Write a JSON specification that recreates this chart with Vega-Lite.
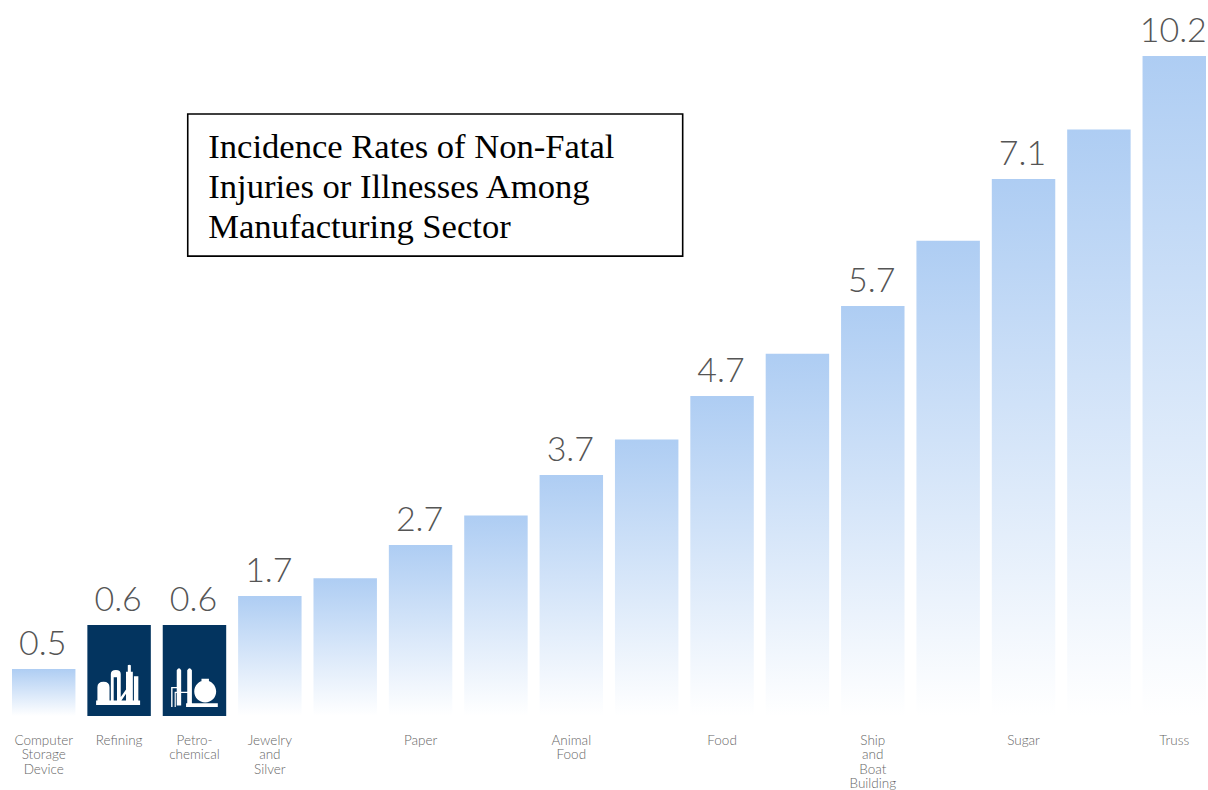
{
"$schema":"https://vega.github.io/schema/vega-lite/v6.json",
"width":1208,"height":790,"padding":0,
"autosize":{"type":"fit","contains":"padding"},
"background":"white",
"config":{"view":{"stroke":null}},
"datasets":{"rates":[
{"rank":1,"industry":"Computer|Storage|Device","value":0.5,"labelled":true,"highlight":false},
{"rank":2,"industry":"Refining","value":0.6,"labelled":true,"highlight":true},
{"rank":3,"industry":"Petro-|chemical","value":0.6,"labelled":true,"highlight":true},
{"rank":4,"industry":"Jewelry|and|Silver","value":1.7,"labelled":true,"highlight":false},
{"rank":5,"industry":"","value":2.05,"labelled":false,"highlight":false},
{"rank":6,"industry":"Paper","value":2.7,"labelled":true,"highlight":false},
{"rank":7,"industry":"","value":3.12,"labelled":false,"highlight":false},
{"rank":8,"industry":"Animal|Food","value":3.7,"labelled":true,"highlight":false},
{"rank":9,"industry":"","value":4.15,"labelled":false,"highlight":false},
{"rank":10,"industry":"Food","value":4.7,"labelled":true,"highlight":false},
{"rank":11,"industry":"","value":5.17,"labelled":false,"highlight":false},
{"rank":12,"industry":"Ship|and|Boat|Building","value":5.7,"labelled":true,"highlight":false},
{"rank":13,"industry":"","value":6.42,"labelled":false,"highlight":false},
{"rank":14,"industry":"Sugar","value":7.1,"labelled":true,"highlight":false},
{"rank":15,"industry":"","value":8.35,"labelled":false,"highlight":false},
{"rank":16,"industry":"Truss","value":10.2,"labelled":true,"highlight":false}
]},
"encoding":{
"x":{"field":"rank","type":"ordinal","axis":null,"scale":{"domain":[1,2,3,4,5,6,7,8,9,10,11,12,13,14,15,16],"range":[12,1206],"paddingInner":0.158,"paddingOuter":0}},
"y":{"field":"value","type":"quantitative","axis":null,"scale":{"domain":[0,0.5,0.6,1.7,2.7,3.7,4.7,5.7,7.1,10.2],"range":[716,669,625,596,545,475,396,306,179,56],"clamp":false}}
},
"layer":[
{"data":{"name":"rates"},"transform":[{"filter":"!datum.highlight"}],
 "mark":{"type":"bar","color":{"gradient":"linear","x1":0,"y1":0,"x2":0,"y2":1,"stops":[{"offset":0,"color":"#aecdf3"},{"offset":1,"color":"#ffffff"}]}}},
{"data":{"name":"rates"},"transform":[{"filter":"datum.highlight"}],
 "mark":{"type":"bar","color":"#03345f"}},
{"data":{"name":"rates"},"transform":[{"filter":"datum.rank==2"}],
 "mark":{"type":"point","filled":true,"fill":"#ffffff","opacity":1,"strokeWidth":0,"size":1936,"xOffset":-1,"yOffset":16,
 "shape":"M-1,.71H1V.91H-1Z M-.94,.75V.1Q-.94,-.15,-.66,-.15Q-.39,-.15,-.39,.1V.75Z M-.33,.75V-.5Q-.33,-.68,-.1,-.68Q.12,-.68,.12,-.5V.75H-.05V-.35H-.2V.75Z M.36,.75V-.6H.44V-.9Q.5,-.95,.58,-.9V-.6H.67V.75Z M.72,.75V-.4H.92V.75Z M.12,.55L.36,.2V.4L.12,.75Z"},
 "encoding":{"y":{"datum":0.5}}},
{"data":{"name":"rates"},"transform":[{"filter":"datum.rank==3"}],
 "mark":{"type":"point","filled":true,"fill":"#ffffff","opacity":1,"strokeWidth":0,"size":2178,"xOffset":0,"yOffset":18,
 "shape":"M-.76,.79V-.72Q-.66,-.88,-.57,-.72V.79Z M-.31,.79V-.72Q-.21,-.88,-.11,-.72V.79Z M-1,.86V0H-.76V.05H-.94V.86Z M-.85,.86V.2H-.76V.26H-.8V.86Z M-.57,.2H-.31V.26H-.57Z M-.36,.7H1V.86H-.36Z M-.01,.19A.47,.47,0,1,1,.93,.19A.47,.47,0,1,1,-.01,.19Z M.3,-.35H.62V-.22H.3Z"},
 "encoding":{"y":{"datum":0.5}}},
{"data":{"name":"rates"},"transform":[{"filter":"datum.labelled"}],
 "mark":{"type":"text","font":"Lato","fontWeight":300,"fontSize":34,"color":"#555555","baseline":"alphabetic","dy":-14,"dx":-1},
 "encoding":{"text":{"field":"value","type":"quantitative","format":".1f"}}},
{"data":{"name":"rates"},"transform":[{"filter":"datum.labelled"}],
 "mark":{"type":"text","font":"Lato","fontWeight":300,"fontSize":13.5,"color":"#666666","baseline":"top","lineBreak":"|","lineHeight":14.3,"dy":18},
 "encoding":{"y":{"datum":0},"text":{"field":"industry","type":"nominal"}}},
{"data":{"values":[{"from":3,"to":9,"top":8.74,"bottom":6.25}]},
 "mark":{"type":"rect","fill":"#ffffff","stroke":"#000000","strokeWidth":1.6,"xOffset":25,"x2Offset":36},
 "encoding":{"x":{"field":"from","type":"ordinal","bandPosition":0},"x2":{"field":"to"},"y":{"field":"top","type":"quantitative"},"y2":{"field":"bottom"}}},
{"data":{"values":[{"from":3,"top":7.63,"title":"Incidence Rates of Non-Fatal|Injuries or Illnesses Among|Manufacturing Sector"}]},
 "mark":{"type":"text","font":"Liberation Serif","fontSize":34.6,"color":"#000000","align":"left","baseline":"alphabetic","lineBreak":"|","lineHeight":40,"dx":45.5},
 "encoding":{"x":{"field":"from","type":"ordinal","bandPosition":0},"y":{"field":"top","type":"quantitative"},"text":{"field":"title","type":"nominal"}}}
]
}
